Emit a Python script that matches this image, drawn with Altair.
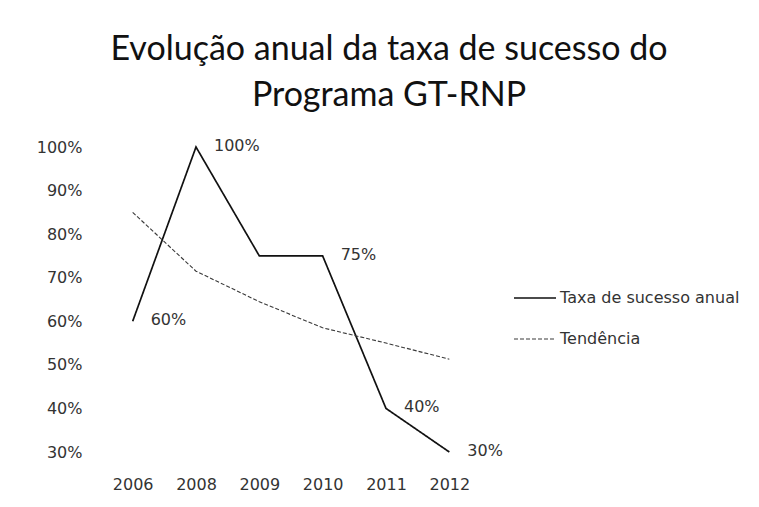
import altair as alt
import pandas as pd

anos = ["2006", "2008", "2009", "2010", "2011", "2012"]
taxa = [60, 100, 75, 75, 40, 30]
tendencia = [85, 71.5, 64.5, 58.5, 55, 51.3]
rotulos = ["60%", "100%", "", "75%", "40%", "30%"]
series = ["Taxa de sucesso anual", "Tendência"]
y_ticks = [30, 40, 50, 60, 70, 80, 90, 100]

df = pd.DataFrame({
    "ano": anos * 2,
    "valor": taxa + tendencia,
    "serie": [series[0]] * len(anos) + [series[1]] * len(anos),
})
lab = pd.DataFrame({"ano": anos, "valor": taxa, "rotulo": rotulos})
lab = lab[lab["rotulo"] != ""]

FONT = "DejaVu Sans"
TXT = "#333333"

x_enc = alt.X(
    "ano:N", sort=anos,
    scale=alt.Scale(type="point", padding=0.5),
    axis=alt.Axis(title=None, labelAngle=0, ticks=False, domain=False, grid=False,
                  labelPadding=24, labelFont=FONT, labelFontSize=16, labelColor=TXT),
)
y_enc = alt.Y(
    "valor:Q",
    scale=alt.Scale(domain=[30, 100], nice=False, zero=False),
    axis=alt.Axis(title=None, values=y_ticks, labelExpr="datum.value + '%'",
                  ticks=False, domain=False, grid=False, labelPadding=19,
                  labelFont=FONT, labelFontSize=16, labelColor=TXT),
)

leg = alt.Legend(title=None, orient="none", legendX=412, legendY=129,
                 symbolType="stroke", symbolSize=1764, labelFont=FONT,
                 labelFontSize=16, labelColor=TXT, rowPadding=11, labelOffset=3,
                 labelLimit=400)

lines = alt.Chart(df).mark_line().encode(
    x=x_enc, y=y_enc,
    color=alt.Color("serie:N", scale=alt.Scale(domain=series, range=["#111111", "#3a3a3a"]), legend=leg),
    strokeDash=alt.StrokeDash("serie:N", scale=alt.Scale(domain=series, range=[[1, 0], [4, 2]]), legend=leg),
    strokeWidth=alt.StrokeWidth("serie:N", scale=alt.Scale(domain=series, range=[1.7, 1.1]), legend=None),
)

texts = alt.Chart(lab).mark_text(align="left", baseline="middle", dx=18, dy=-1,
                                 font=FONT, fontSize=16, color=TXT).encode(
    x=x_enc, y=y_enc, text="rotulo:N")

chart = alt.layer(lines, texts).properties(
    width=380, height=305,
    title=alt.TitleParams(
        text=["Evolução anual da taxa de sucesso do", "Programa GT-RNP"],
        font="Lato", fontSize=34, fontWeight="normal", color="#111111",
        anchor="middle", dx=98, dy=42, offset=33, baseline="bottom", lineHeight=46),
    autosize=alt.AutoSizeParams(type="none"),
    padding={"left": 93, "top": 139, "right": 270, "bottom": 40},
).configure_view(stroke=None)

chart.save("out.html", embed_options={"renderer": "svg", "actions": False})
